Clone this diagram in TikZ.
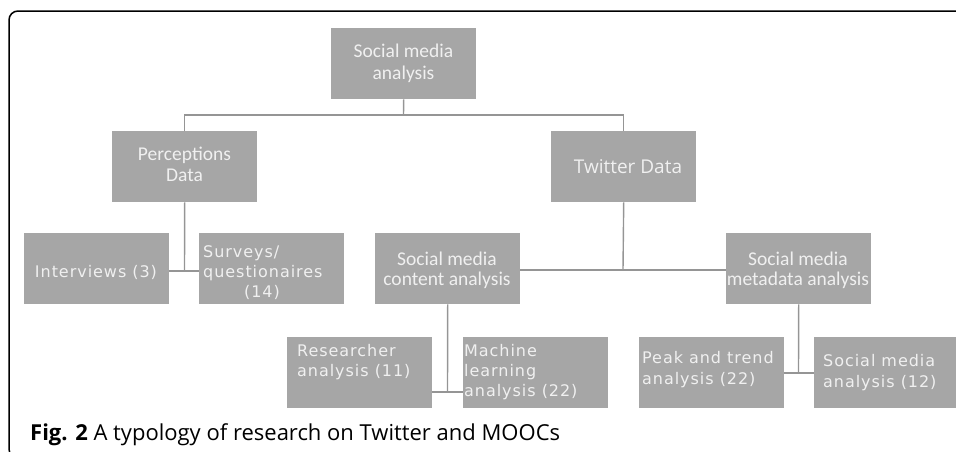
\documentclass[tikz,border=0pt]{standalone}
\usepackage{fontspec}
\setmainfont{Open Sans}
\newfontfamily\segfont{Carlito}
\newfontfamily\twfont{Open Sans}
\newfontfamily\verfont{DejaVu Sans}[LetterSpace=6]
\definecolor{boxgray}{HTML}{A6A6A6}
\definecolor{txtgray}{HTML}{F0F0F0}
\definecolor{linegray}{HTML}{959595}
\begin{document}
\begin{tikzpicture}[x=1pt,y=-1pt,
  box/.style={fill=boxgray, draw=none, minimum width=145pt, minimum height=71pt, anchor=north west, inner sep=0pt},
  seg/.style={text=txtgray, font=\segfont\fontsize{19.5}{23}\selectfont, inner sep=0pt, anchor=base},
  tw/.style={text=txtgray, font=\twfont\fontsize{19}{23}\selectfont, inner sep=0pt, anchor=base},
  ver/.style={text=txtgray, font=\verfont\fontsize{16}{19}\selectfont, inner sep=0pt, anchor=base west},
  verc/.style={ver, anchor=base},
  conn/.style={draw=linegray, line width=1.4pt}]
\useasboundingbox (0,0) rectangle (956,451);
\clip (0,0) rectangle (956,451);
\draw[line width=1.5pt, rounded corners=9pt] (9,11) rectangle (990,458);

% boxes
\node[box] (sma) at (331,28) {};
\node[box] (pd) at (112,131) {};
\node[box] (td) at (551,131) {};
\node[box] (int) at (24,233) {};
\node[box] (sur) at (199,233) {};
\node[box] (sca) at (375,233) {};
\node[box] (smm) at (726,233) {};
\node[box] (ra) at (287,337) {};
\node[box] (ml) at (463,337) {};
\node[box] (pt) at (639,337) {};
\node[box] (smt) at (814,337) {};

% texts
\node[seg] (sma1) at (403.5,57) {Social media};
\node[seg] (sma2) at (403.5,79) {analysis};
\node[seg] (pd1) at (184.5,160) {Perceptions};
\node[seg] (pd2) at (184.5,181) {Data};
\node[tw] (td1) at (628,173) {Twitter Data};
\node[verc] (int1) at (96,277) {Interviews (3)};
\node[ver] (sur1) at (203,257) {Surveys/};
\node[ver] (sur2) at (203,277) {questionaires};
\node[verc] (sur3) at (262,297) {(14)};
\node[seg] (sca1) at (447,265) {Social media};
\node[seg] (sca2) at (447,285) {content analysis};
\node[seg] (smm1) at (798,265) {Social media};
\node[seg] (smm2) at (798,285) {metadata analysis};
\node[ver] (ra1) at (297,356) {Researcher};
\node[ver] (ra2) at (297,376) {analysis (11)};
\node[ver] (ml1) at (464,356) {Machine};
\node[ver] (ml2) at (464,376) {learning};
\node[ver] (ml3) at (464,396) {analysis (22)};
\node[ver] (pt1) at (642,363) {Peak and trend};
\node[ver] (pt2) at (642,384) {analysis (22)};
\node[ver] (smt1) at (823,366) {Social media};
\node[ver] (smt2) at (823,387) {analysis (12)};

% connectors
\coordinate (j1) at (403.5,115);
\draw[conn] (sma.south) -- (j1);
\draw[conn] (pd.north) |- (j1) -| (td.north);
\coordinate (j2) at (184.5,271);
\draw[conn] (pd.south) -- (j2);
\draw[conn] (int.east |- j2) -- (sur.west |- j2);
\coordinate (j3) at (623,270);
\draw[conn] (td.south) -- (j3);
\draw[conn] (sca.east |- j3) -- (smm.west |- j3);
\coordinate (j4) at (447.5,392);
\draw[conn] (sca.south) -- (j4);
\draw[conn] (ra.east |- j4) -- (ml.west |- j4);
\coordinate (j5) at (798.5,373);
\draw[conn] (smm.south) -- (j5);
\draw[conn] (pt.east |- j5) -- (smt.west |- j5);

% caption
\node[anchor=base west, inner sep=0pt, font=\fontsize{22}{26}\selectfont] (cap) at (30,440) {\textbf{Fig. 2} A typology of research on Twitter and MOOCs};
\end{tikzpicture}
\end{document}
